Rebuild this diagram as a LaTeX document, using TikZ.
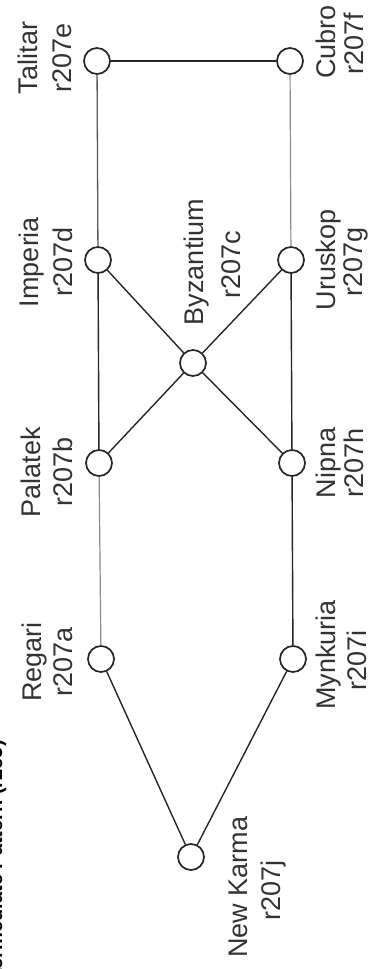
\documentclass[tikz,border=0pt]{standalone}
\usepackage{fontspec}
\setmainfont{Liberation Sans}
\begin{document}
\begin{tikzpicture}[x=1pt,y=-1pt,
  site/.style={circle,draw=black!85,line width=1.7pt,minimum size=26pt,inner sep=0pt},
  lbl/.style={rotate=90,anchor=base,inner sep=0pt,font=\fontsize{27}{33}\selectfont,text=black!80},
  link/.style={line width=1.4pt,draw=black!85},
  mid/.style={line width=1.3pt,draw=black!65},
  faint/.style={line width=1.2pt,draw=black!45}]
\useasboundingbox (0,0) rectangle (368,969);
\clip (0,0) rectangle (368,969);

% cut-off title at the left edge
\node[rotate=90,anchor=base east,inner sep=0pt,font=\bfseries\fontsize{20}{24}\selectfont] (title) at (2,740) {Intermediate Pattern (r2e5)};

% sites
\node[site] (talitar) at (97,61) {};
\node[site] (cubro) at (290,61) {};
\node[site] (imperia) at (98,260) {};
\node[site] (uruskop) at (291,260) {};
\node[site] (byz) at (193,363) {};
\node[site] (palatek) at (99,463) {};
\node[site] (nipna) at (292,463) {};
\node[site] (regari) at (101,659) {};
\node[site] (mynkuria) at (293,659) {};
\node[site] (newkarma) at (191,857) {};

% connectors
\draw[link] (talitar) -- (cubro);
\draw[mid] (talitar) -- (imperia);
\draw[faint] (cubro) -- (uruskop);
\draw[link] (imperia) -- (palatek);
\draw[link] (uruskop) -- (nipna);
\draw[link] (imperia) -- (byz);
\draw[link] (uruskop) -- (byz);
\draw[link] (byz) -- (palatek);
\draw[link] (byz) -- (nipna);
\draw[faint] (palatek) -- (regari);
\draw[link] (nipna) -- (mynkuria);
\draw[link] (regari) -- (newkarma);
\draw[link] (mynkuria) -- (newkarma);

% labels
\node[lbl] (l-tal1) at (37,58) {Talitar};
\node[lbl] (l-tal2) at (71,58) {r207e};
\node[lbl] (l-imp1) at (38,262) {Imperia};
\node[lbl] (l-imp2) at (72,262) {r207d};
\node[lbl] (l-pal1) at (40,472) {Palatek};
\node[lbl] (l-pal2) at (72,472) {r207b};
\node[lbl] (l-reg1) at (41,662) {Regari};
\node[lbl] (l-reg2) at (72,662) {r207a};
\node[lbl] (l-cub1) at (335,42) {Cubro};
\node[lbl] (l-cub2) at (363,44) {r207f};
\node[lbl] (l-uru1) at (335,260) {Uruskop};
\node[lbl] (l-uru2) at (362,262) {r207g};
\node[lbl] (l-nip1) at (335,463) {Nipna};
\node[lbl] (l-nip2) at (363,463) {r207h};
\node[lbl] (l-myn1) at (335,655) {Mynkuria};
\node[lbl] (l-myn2) at (366,660) {r207i};
\node[lbl] (l-byz1) at (203,262) {Byzantium};
\node[lbl] (l-byz2) at (240,265) {r207c};
\node[lbl] (l-nk1) at (247,887) {New Karma};
\node[lbl] (l-nk2) at (280,890) {r207j};
\end{tikzpicture}
\end{document}
